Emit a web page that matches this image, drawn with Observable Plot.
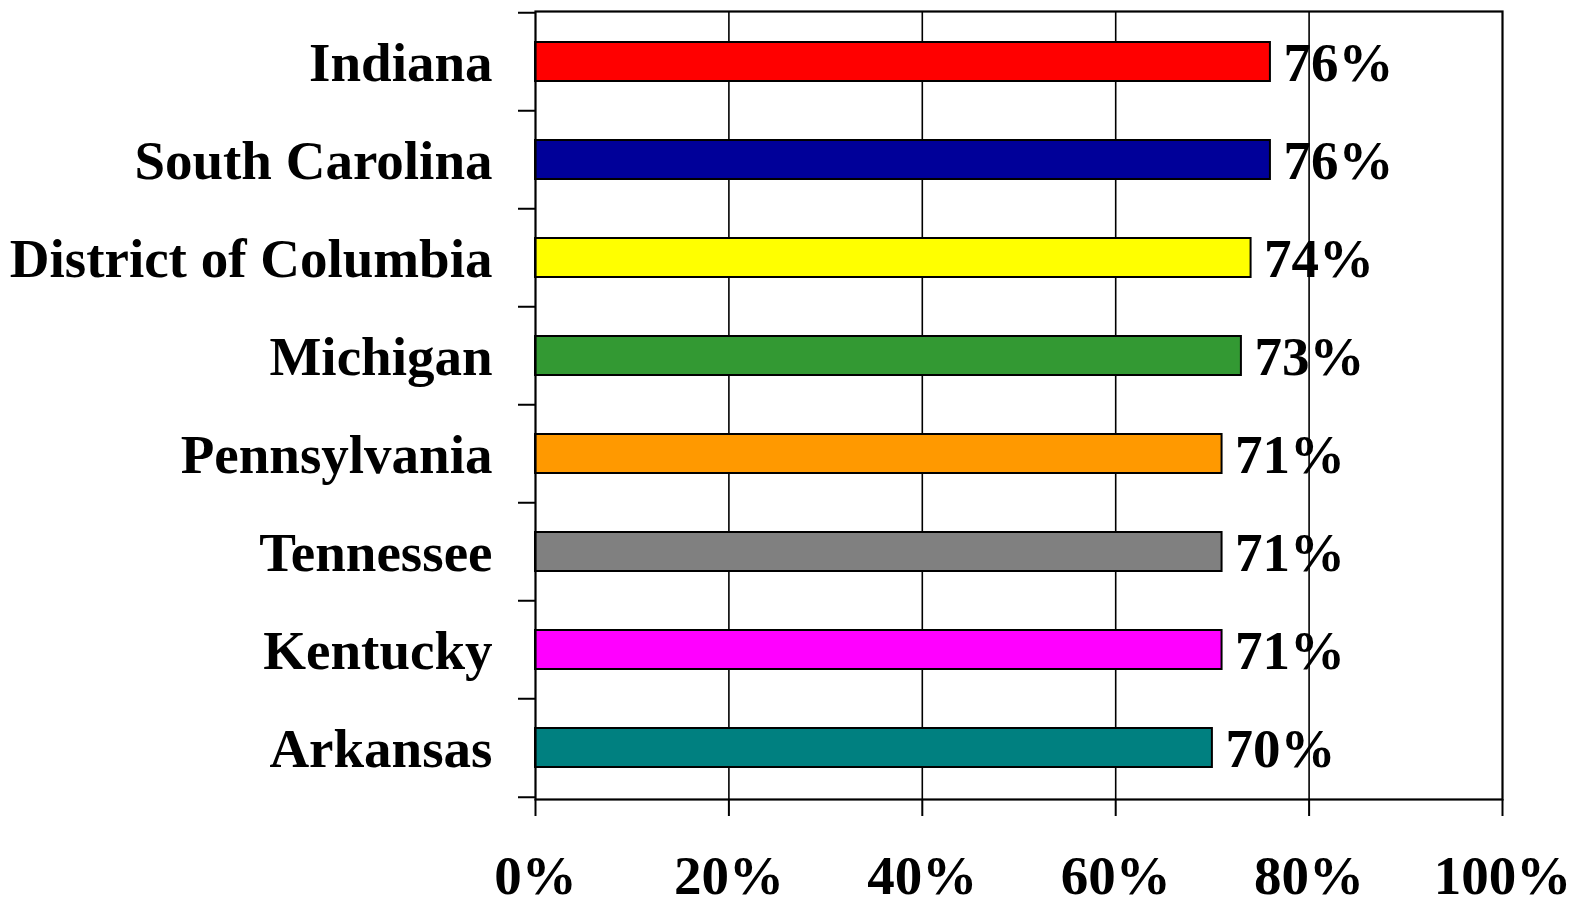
<!DOCTYPE html>
<html><head><meta charset="utf-8">
<script src="https://cdn.jsdelivr.net/npm/d3@7"></script>
<script src="https://cdn.jsdelivr.net/npm/@observablehq/plot@0.6"></script>
<style>body{margin:0;background:#fff} svg{display:block}</style>
</head><body><div id="chart"></div>
<script>
const states = ["Indiana","South Carolina","District of Columbia","Michigan","Pennsylvania","Tennessee","Kentucky","Arkansas"];
const values = [76,76,74,73,71,71,71,70];
const colors = ["#ff0000","#000099","#ffff00","#339933","#ff9900","#808080","#ff00ff","#008080"];
const xTicks = [0,20,40,60,80,100];
const data = states.map((s,i)=>({state:s, value:values[i], color:colors[i]}));

const W=1573,H=899, mL=535, mR=71, mT=11, mB=100;
const step = (H-mT-mB)/states.length;
const font = '"Liberation Serif","Times New Roman",serif';
const fs = 55;

const chart = Plot.plot({
 width:W, height:H, marginLeft:mL, marginRight:mR, marginTop:mT, marginBottom:mB,
 style:{fontFamily:font, fontWeight:"bold", background:"#fff", overflow:"visible", color:"#000"},
 x:{domain:[0,100], label:null},
 y:{domain:states, paddingInner:0.6, paddingOuter:0.3, label:null},
 marks:[
  Plot.gridX(xTicks.slice(1,-1), {stroke:"#000", strokeOpacity:1, strokeWidth:1.6}),
  Plot.barX(data,{y:"state", x:"value", fill:"color", stroke:"#000", strokeWidth:2}),
  Plot.text(data,{y:"state", x:"value", text:d=>d.value+"%", textAnchor:"start", dx:13, dy:1, fontSize:fs, fontWeight:"bold", fill:"#000"}),
  Plot.frame({stroke:"#000", strokeWidth:2.2}),
  Plot.axisX(xTicks, {tickSize:17, tickPadding:38, tickFormat:d=>d+"%", fontSize:fs, fontWeight:"bold", stroke:"#000", strokeWidth:2, label:null}),
  Plot.axisY({tickSize:0, tickPadding:43, fontSize:fs, fontWeight:"bold", dy:1, label:null}),
  Plot.axisY({tickSize:17, tickFormat:()=>"", dy:-step/2, stroke:"#000", strokeWidth:2, label:null}),
  Plot.axisY([states[states.length-1]], {tickSize:17, tickFormat:()=>"", dy:step/2, stroke:"#000", strokeWidth:2, label:null})
 ]
});
document.getElementById("chart").appendChild(chart);
</script>
</body></html>
